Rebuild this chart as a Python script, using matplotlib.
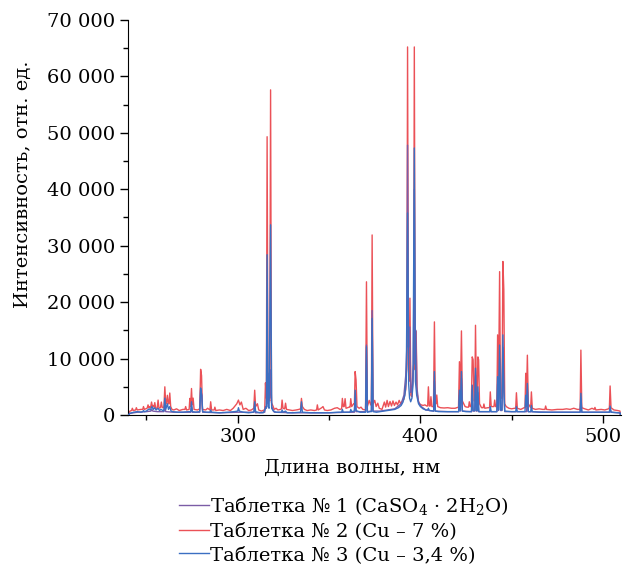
import numpy as np
import matplotlib.pyplot as plt
from matplotlib.ticker import MultipleLocator, FuncFormatter

plt.rcParams['font.family'] = ['DejaVu Serif']
plt.rcParams['mathtext.fontset'] = 'dejavuserif'

# Таблетка № 2 (Cu - 7 %), красная линия
wl_2 = [240.2, 241, 241.9, 242.3, 242.8, 244.1, 244.5, 245, 247, 248.0, 248.4, 248.9, 250.4,
        250.9, 251.4, 251.8, 252.3, 252.8, 253.3, 253.6, 254.1, 254.6, 255.1, 255.9, 256.4,
        256.9, 257.7, 258.2, 258.7, 259.6, 260.1, 260.6, 261.0, 261.5, 262.0, 262.4, 262.8,
        263.3, 264, 265, 266.5, 268, 270, 271.1, 271.5, 272, 273.4, 273.8, 274.2, 274.7,
        275.1, 275.6, 276.1, 278, 279.2, 279.7, 280.2, 280.7, 282.5, 283.5, 284.8, 285.2,
        285.7, 287.1, 287.5, 288, 290, 292, 294, 296, 297.5, 298.5, 299.5, 300.4, 301.2, 302,
        303, 304.5, 306, 307.5, 308.8, 309.3, 309.8, 310.8, 311.5, 313, 314.5, 314.8, 315.2,
        315.7, 316.1, 316.6, 317.0, 317.5, 318.0, 318.5, 319.3, 320, 321, 322, 323.5, 323.9,
        324.3, 324.8, 325.7, 326.2, 326.7, 328.5, 330, 332, 333.5, 334.4, 334.9, 335.4, 336.5,
        338, 340, 342, 343.2, 343.6, 344.1, 346, 346.7, 347.5, 349, 351, 353, 354.5, 356,
        356.9, 357.3, 357.8, 358.3, 358.8, 359.3, 361, 361.5, 361.9, 362.4, 363.5, 363.9,
        364.3, 364.8, 365.3, 366.5, 367.5, 368.5, 370.0, 370.5, 371.0, 372, 372.8, 373.2,
        373.6, 374.1, 375, 375.8, 376.7, 377.5, 379, 380.3, 381, 381.8, 382.5, 383.4, 384.2,
        385, 385.8, 386.7, 387.5, 388.4, 389.2, 390, 391, 392, 392.6, 393.0, 393.5, 393.9,
        394.3, 394.8, 395.3, 395.9, 396.3, 396.7, 397.2, 397.7, 398.2, 398.8, 399.5, 400.5,
        401.5, 402.5, 403.5, 404.0, 404.4, 404.9, 405.4, 405.8, 406.3, 407.2, 407.7, 408.2,
        408.6, 409, 409.5, 411, 413, 415, 417, 419, 420.9, 421.4, 421.9, 422.5, 423.0, 424.5,
        425.5, 426.4, 426.8, 427.3, 427.9, 428.4, 428.9, 429.4, 429.8, 430.2, 430.7, 431.1,
        431.5, 431.9, 432.4, 433.5, 434.4, 434.8, 435.3, 437, 437.9, 438.3, 438.8, 440.3,
        440.7, 441.2, 441.9, 442.3, 442.8, 443.4, 443.9, 444.7, 445.2, 445.7, 446.2, 447,
        448.5, 450, 451.5, 452.2, 452.6, 453.1, 455, 456.8, 457.3, 457.7, 458.1, 458.6, 459.1,
        460.4, 460.8, 461.3, 463, 465, 467, 468.2, 468.6, 469.1, 472, 475, 478, 480, 482, 484,
        486, 487.5, 487.9, 488.4, 490, 492, 494, 495.2, 495.6, 496.1, 499, 501, 503, 503.5,
        503.9, 504.4, 506, 508, 509.3, 509.6]
int_2 = [200, 700, 800, 1200, 800, 900, 1300, 900, 1000, 1000, 1500, 1000, 1200,
         1800, 1300, 1500, 1300, 2300, 1500, 1700, 1400, 2200, 1200, 1200, 2650,
         1200, 1300, 2300, 1300, 1400, 5000, 2000, 2000, 3500, 2000, 2000, 3900,
         1500, 1000, 900, 1100, 800, 1000, 1000, 1500, 900, 1000, 2950, 1500, 4700,
         1800, 3000, 1000, 900, 1100, 8100, 7000, 1000, 900, 1200, 900, 2350,
         900, 900, 1400, 800, 900, 800, 1000, 800, 1200, 1600, 2000, 2650, 1800, 2300,
         1000, 1200, 800, 900, 1200, 4400, 1500, 2000, 900, 700, 900, 1000, 5700,
         3000, 49300, 2500, 3000, 2500, 57600, 2200, 1600, 1000, 1200, 900, 1000, 1100,
         2650, 1200, 1100, 2100, 1000, 900, 800, 900, 1000, 1100, 2950, 1500, 1000,
         800, 900, 800, 900, 1800, 900, 1300, 1500, 900, 800, 900, 1200, 1300, 1000,
         1100, 2950, 1500, 1500, 2900, 1200, 1400, 1400, 2900, 1500, 2000, 2000,
         7700, 6200, 1500, 1200, 1400, 1000, 900, 23600, 1500, 2600, 1800, 1800,
         31900, 2000, 2600, 1500, 2100, 1200, 1000, 2300, 1400, 2600, 1500, 2400, 1600,
         2500, 1700, 2300, 1800, 2600, 2000, 2400, 2800, 4500, 9000, 65200, 8000, 6000,
         20700, 3500, 3250, 6000, 9000, 65200, 8000, 14800, 4000, 2600, 2000, 1800,
         1700, 1800, 1600, 1600, 5000, 1600, 1600, 3250, 1500, 1500, 16500, 2000,
         2000, 3550, 1500, 1300, 1250, 1300, 1200, 1200, 1400, 9450, 3000, 14900, 2500, 1500,
         1400, 1400, 2350, 1500, 1500, 10300, 9800, 2500, 2500, 15900, 3000, 3000,
         10300, 9800, 2000, 1300, 1300, 1950, 1200, 1300, 1300, 4100, 1500, 1500,
         2650, 1500, 1500, 14200, 4000, 25400, 3000, 3000, 27200, 22200, 2000, 1500,
         1200, 1100, 1200, 1200, 3950, 1200, 1000, 1300, 1300, 7400, 3000, 10600, 2000,
         1300, 4100, 1200, 1000, 1100, 1000, 1000, 1600, 1000, 900, 1000, 1000, 1100, 1000, 1200,
         1000, 1000, 11500, 1300, 1100, 900, 1200, 1000, 1350, 900, 1000, 900, 1100, 1300,
         5150, 1300, 900, 800, 700, 0]

# Таблетка № 3 (Cu - 3,4 %), синяя линия
wl_3 = [240.2, 241, 243, 245, 247, 248.0, 248.4, 248.9, 250, 251.5, 252.2, 253, 253.8, 254.5,
        255.3, 256.4, 257.2, 258, 259.5, 260.1, 260.6, 261.5, 262.1, 262.8, 263.5, 264.5, 267,
        270, 273, 274.3, 274.7, 275.2, 277, 279.2, 279.7, 280.3, 280.8, 283, 284.8, 285.2,
        285.7, 290, 295, 298, 300, 300.4, 300.9, 303, 306, 308.5, 308.9, 309.3, 309.8, 312,
        314, 315.2, 315.7, 316.1, 316.6, 317.2, 318.0, 318.6, 319.5, 321, 323.9, 324.3, 324.8,
        326.2, 327, 330, 334.4, 334.9, 335.4, 340, 345, 350, 355, 356.9, 357.3, 357.8, 361.5,
        361.9, 362.4, 363.9, 364.3, 364.8, 367, 370.0, 370.5, 371.0, 372.5, 373.2, 373.6,
        374.1, 376, 378, 380, 382, 384, 386, 388, 389.5, 390.5, 391.5, 392.3, 393.0, 393.6,
        394.1, 394.7, 395.4, 396.0, 396.7, 397.3, 398, 399, 400, 401.5, 403, 404.0, 404.4,
        404.9, 407.3, 407.7, 408.2, 410, 415, 421.0, 421.4, 421.9, 422.5, 423.0, 425, 428.0,
        428.4, 428.9, 429.8, 430.2, 430.7, 431.1, 431.5, 432.0, 435, 437.9, 438.3, 438.8,
        441.9, 442.3, 442.8, 443.4, 443.9, 444.7, 445.2, 445.7, 446.2, 450, 452.2, 452.6,
        453.1, 457.3, 457.7, 458.1, 458.6, 459.1, 460.4, 460.8, 461.3, 465, 470, 475, 480,
        485, 487.5, 487.9, 488.4, 492, 496, 500, 503.5, 503.9, 504.4, 508, 509.3, 509.6]
int_3 = [0, 300, 500, 600, 500, 600, 800, 600, 700, 1100, 900, 1500, 1000, 1300,
         900, 1200, 800, 1000, 700, 3000, 1000, 2000, 1000, 1500, 700, 600, 500,
         500, 600, 600, 2350, 600, 500, 600, 4800, 3500, 600, 500, 500, 900,
         500, 400, 500, 600, 700, 1300, 700, 500, 400, 500, 600, 2350, 600, 400,
         400, 1200, 1500, 28400, 1500, 1200, 33700, 1200, 700, 500, 500, 900, 500,
         700, 400, 400, 500, 2350, 500, 400, 400, 400, 500, 500, 1000, 500, 500,
         1000, 600, 700, 4400, 800, 500, 500, 12100, 500, 600, 600, 17100,
         600, 500, 600, 700, 800, 900, 1000, 1300, 1700, 2300, 3500, 6000, 35800, 5500,
         3000, 2350, 3000, 5500, 47300, 6000, 3500, 2000, 1500, 1100, 900, 900, 1200,
         800, 700, 7700, 700, 600, 600, 600, 4400, 800, 7700, 700, 600, 600,
         5300, 800, 800, 8300, 800, 800, 5000, 600, 600, 600, 1500, 600,
         600, 6800, 900, 12400, 900, 900, 14200, 5000, 700, 600, 600, 1500,
         600, 600, 3500, 1500, 5600, 600, 600, 1700, 600, 500, 500, 500, 500,
         500, 500, 3850, 500, 500, 500, 500, 500, 1600, 500, 400, 400, 0]

# Таблетка № 1 (CaSO4 · 2H2O), фиолетовая линия
wl_1 = [240.2, 241, 245, 250, 252.5, 253, 253.5, 256, 259.6, 260.1, 260.6, 265, 274.3, 274.7,
        275.2, 279.2, 279.7, 280.3, 280.8, 290, 300, 308.9, 309.3, 309.8, 314.8, 315.2, 315.7,
        316.1, 316.6, 317.1, 317.6, 318.0, 318.6, 320, 330, 340, 350, 360, 363.9, 364.3, 364.8,
        370.0, 370.5, 371.0, 373.2, 373.6, 374.1, 378, 382, 386, 389.5, 391, 392, 392.6, 393.0,
        393.5, 394.2, 394.8, 395.5, 396.2, 396.7, 397.1, 397.6, 398.1, 399, 400.5, 403, 407.3,
        407.7, 408.2, 415, 421.0, 421.4, 421.9, 422.5, 423.0, 428.0, 428.4, 428.9, 429.8, 430.2,
        430.7, 431.1, 431.5, 432.0, 441.9, 442.3, 442.8, 443.4, 443.9, 444.7, 445.2, 445.7,
        446.2, 458.2, 458.6, 459.1, 470, 487.5, 487.9, 488.4, 500, 503.5, 503.9, 504.4, 509.3,
        509.6]
int_1 = [0, 300, 500, 600, 700, 1000, 700, 600, 600, 1500, 600, 500, 500, 1500,
         500, 500, 4500, 3500, 500, 400, 500, 500, 1500, 400, 500, 1500, 1200,
         5000, 2000, 7400, 3000, 8000, 1500, 500, 400, 400, 400, 500, 500, 3000, 600,
         600, 12400, 600, 700, 18500, 700, 700, 900, 1100, 2000, 3500, 7000, 12000, 47800,
         12000, 15600, 4000, 5000, 9000, 40000, 9000, 15000, 5000, 2300, 1500, 900, 700,
         6000, 700, 600, 600, 3500, 700, 6500, 700, 600, 4500, 700, 700, 7000,
         700, 700, 4000, 600, 600, 5500, 800, 10000, 800, 800, 12000, 4000,
         600, 600, 4500, 600, 500, 500, 3000, 500, 500, 500, 1200, 500, 400,
         0]

labels = ['Таблетка № 1 (CaSO$_4$ · 2H$_2$O)',
          'Таблетка № 2 (Cu – 7 %)',
          'Таблетка № 3 (Cu – 3,4 %)']
colors = ['#7b5ca6', '#e8333a', '#3b6fc2']

fig = plt.figure(figsize=(6.25, 5.67), dpi=100)
ax = fig.add_axes([0.205, 0.268, 0.789, 0.697])

l2, = ax.plot(wl_2, int_2, color=colors[1], lw=1.0, alpha=0.85, zorder=2)
l1, = ax.plot(wl_1, int_1, color=colors[0], lw=1.0, zorder=3)
l3, = ax.plot(wl_3, int_3, color=colors[2], lw=1.0, zorder=4)

ax.set_xlim(240, 510)
ax.set_ylim(0, 70000)
ax.xaxis.set_major_locator(MultipleLocator(100))
ax.xaxis.set_minor_locator(MultipleLocator(50))
ax.yaxis.set_major_locator(MultipleLocator(10000))
ax.yaxis.set_minor_locator(MultipleLocator(5000))
ax.yaxis.set_major_formatter(FuncFormatter(lambda v, p: f'{int(v):,}'.replace(',', ' ')))
ax.tick_params(which='major', direction='out', length=6, width=1, labelsize=14)
ax.tick_params(which='minor', direction='out', length=3.5, width=1)
ax.spines['top'].set_visible(False)
ax.spines['right'].set_visible(False)
ax.set_xlabel('Длина волны, нм', fontsize=14)
ax.set_ylabel('Интенсивность, отн. ед.', fontsize=14)
ax.xaxis.set_label_coords(0.454, -0.11)
ax.yaxis.set_label_coords(-0.196, 0.585)

leg = fig.legend([l1, l2, l3], labels, loc='upper left', bbox_to_anchor=(0.287, 0.127),
                 frameon=False, fontsize=14, handlelength=1.5, handletextpad=0.1,
                 labelspacing=0.28, borderpad=0, borderaxespad=0)

fig.savefig('out.png', dpi=100)
